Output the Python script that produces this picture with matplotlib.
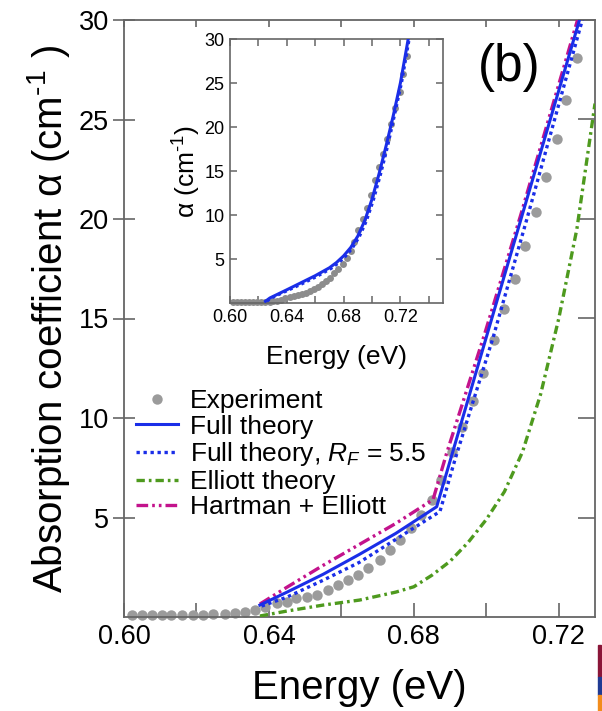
import matplotlib
matplotlib.use("Agg")
import matplotlib.pyplot as plt
from matplotlib.patches import Rectangle
from matplotlib.lines import Line2D

plt.rcParams['font.family'] = ['Liberation Sans', 'DejaVu Sans']
plt.rcParams['mathtext.fontset'] = 'custom'
plt.rcParams['mathtext.rm'] = 'Liberation Sans'
plt.rcParams['mathtext.it'] = 'Liberation Sans:italic'
plt.rcParams['mathtext.bf'] = 'Liberation Sans:bold'

# ---------------- data ----------------
exp_E = [0.6021, 0.6049, 0.6076, 0.6104, 0.6131, 0.6159, 0.6191, 0.6219, 0.6247, 0.6279,
         0.6306, 0.6334, 0.6361, 0.6389, 0.6421, 0.6449, 0.6476, 0.6504, 0.6532, 0.6564,
         0.6591, 0.6619, 0.6646, 0.6674, 0.6706, 0.6734, 0.6762, 0.6793, 0.6821, 0.6849,
         0.6875, 0.6904, 0.6934, 0.6964, 0.6992, 0.7022, 0.7049, 0.7079, 0.7106, 0.7137,
         0.7164, 0.7194, 0.7221, 0.7249]
exp_a = [0.10, 0.10, 0.10, 0.10, 0.10, 0.10, 0.10, 0.10, 0.13, 0.15,
         0.20, 0.24, 0.35, 0.52, 0.69, 0.77, 0.94, 1.02, 1.10, 1.36,
         1.61, 1.86, 2.11, 2.45, 2.86, 3.37, 3.88, 4.47, 5.15, 5.88,
         6.88, 8.28, 9.56, 10.85, 12.25, 13.93, 15.46, 16.97, 18.65, 20.37,
         22.13, 24.00, 26.00, 28.07]

full_E = [0.6375, 0.645, 0.655, 0.665, 0.675, 0.6863, 0.700, 0.7262]
full_a = [0.60, 1.25, 2.15, 3.15, 4.20, 5.54, 14.06, 30.3]

rf_E = [0.6380, 0.645, 0.655, 0.665, 0.675, 0.6872, 0.6915, 0.7018, 0.7112, 0.7268]
rf_a = [0.55, 1.00, 1.85, 2.75, 3.90, 5.30, 8.00, 14.00, 20.00, 30.2]

elliott_E = [0.6375, 0.645, 0.655, 0.665, 0.675, 0.680, 0.685, 0.690, 0.695, 0.700,
             0.705, 0.710, 0.715, 0.720, 0.725, 0.730]
elliott_a = [0.05, 0.30, 0.60, 0.85, 1.25, 1.52, 2.10, 2.80, 3.75, 4.90,
             6.30, 8.30, 11.20, 15.00, 19.50, 25.8]

hart_E = [0.6375, 0.645, 0.655, 0.665, 0.675, 0.6853, 0.6890, 0.6995, 0.7095, 0.7255]
hart_a = [0.65, 1.50, 2.60, 3.65, 4.70, 5.90, 8.20, 14.20, 20.20, 30.2]

inset_full_E = [0.6250, 0.6281, 0.640, 0.650, 0.660, 0.670, 0.675, 0.680, 0.685, 0.690,
                0.695, 0.700, 0.705, 0.710, 0.715, 0.720, 0.7255]
inset_full_a = [0.20, 0.57, 1.50, 2.30, 3.10, 4.00, 4.60, 5.35, 6.30, 7.60,
                9.40, 11.80, 14.70, 17.90, 21.30, 25.0, 30.0]
inset_rf_E = [0.6260, 0.6291, 0.641, 0.651, 0.661, 0.671, 0.676, 0.681, 0.686, 0.691,
              0.696, 0.701, 0.706, 0.711, 0.7158, 0.7208, 0.7262]
inset_rf_a = [0.20, 0.57, 1.45, 2.20, 3.00, 3.90, 4.50, 5.25, 6.20, 7.50,
              9.30, 11.70, 14.60, 17.80, 21.30, 25.0, 30.0]

main_xticks = [0.60, 0.64, 0.68, 0.72]
main_xticklabels = ['0.60', '0.64', '0.68', '0.72']
main_xminor = [0.62, 0.66, 0.70]
yticks = [5, 10, 15, 20, 25, 30]

legend_labels = ['Experiment', 'Full theory', r'Full theory, $R_F$ = 5.5',
                 'Elliott theory', 'Hartman + Elliott']

# ---------------- styles ----------------
BLUE = '#1a2ee8'
GREEN = '#4e9a1e'
MAG = '#c3138c'
GREY = '#9b9b9b'
SPINE = '#666666'
LS_DOT = (0, (1, 1.1))
LS_DASHDOT = (0, (2.5, 1.2, 0.8, 1.2))
LS_DASHDOTDOT = (0, (3.5, 1.2, 0.8, 1.2, 0.8, 1.2))

fig = plt.figure(figsize=(6.02, 7.11), dpi=100)
ax = fig.add_axes([124/602, 1-617/711, (595-124)/602, (617-20)/711])

ax.plot(exp_E, exp_a, 'o', color=GREY, ms=7.5, mec='none', zorder=2, clip_on=False)
ax.plot(full_E, full_a, '-', color=BLUE, lw=2.2, zorder=4)
ax.plot(rf_E, rf_a, color=BLUE, lw=2.4, ls=LS_DOT, zorder=4)
ax.plot(elliott_E, elliott_a, color=GREEN, lw=2.4, ls=LS_DASHDOT, zorder=4)
ax.plot(hart_E, hart_a, color=MAG, lw=2.4, ls=LS_DASHDOTDOT, zorder=3)

ax.set_xlim(0.60, 0.73)
ax.set_ylim(0, 30)
ax.set_xticks(main_xticks)
ax.set_xticklabels(main_xticklabels)
ax.set_xticks(main_xminor, minor=True)
ax.set_yticks(yticks)
ax.tick_params(axis='x', which='both', direction='in', length=10, width=1.2,
               colors=SPINE, labelcolor='black', labelsize=19.5, pad=5)
ax.tick_params(axis='y', direction='inout', length=16, width=1.2,
               colors=SPINE, labelcolor='black', labelsize=19.5, pad=3)
for s in ax.spines.values():
    s.set_color(SPINE)
    s.set_linewidth(1.3)

top = ax.secondary_xaxis('top')
top.set_xticks(main_xticks + main_xminor)
top.tick_params(direction='in', length=5, width=1.2, colors=SPINE, labeltop=False)
top.spines['top'].set_visible(False)
right = ax.secondary_yaxis('right')
right.set_yticks(yticks)
right.tick_params(direction='in', length=12, width=1.2, colors=SPINE, labelright=False)
right.spines['right'].set_visible(False)

ax.set_xlabel('Energy (eV)', fontsize=29, labelpad=14)
ax.set_ylabel(r'Absorption coefficient α (cm$^{\text{-1}}$ )', fontsize=29, labelpad=5)

fig.text(509/602, 1-68/711, '(b)', fontsize=37, ha='center', va='center')

# legend
handles = [
    Line2D([], [], ls='none', marker='o', color=GREY, ms=7.5, mec='none'),
    Line2D([], [], color=BLUE, lw=2.2),
    Line2D([], [], color=BLUE, lw=2.4, ls=LS_DOT),
    Line2D([], [], color=GREEN, lw=2.4, ls=LS_DASHDOT),
    Line2D([], [], color=MAG, lw=2.4, ls=LS_DASHDOTDOT),
]
fig.legend(handles, legend_labels, loc='upper left',
           bbox_to_anchor=(136/602, 1-389/711), bbox_transform=fig.transFigure,
           frameon=False, fontsize=19, handlelength=1.6, handletextpad=0.45,
           labelspacing=0.06, borderpad=0, borderaxespad=0)

# ---------------- inset ----------------
axi = fig.add_axes([230/602, 1-303/711, (443-230)/602, (303-39)/711])
axi.plot(exp_E, exp_a, 'o', color='#8c8c8c', ms=5, mec='none', zorder=2, clip_on=False)
axi.plot(inset_full_E, inset_full_a, '-', color=BLUE, lw=2.2, zorder=4)
axi.plot(inset_rf_E, inset_rf_a, color=BLUE, lw=2.2, ls=LS_DOT, zorder=4)
axi.set_xlim(0.60, 0.75)
axi.set_ylim(0, 30)
axi.set_xticks(main_xticks)
axi.set_xticklabels(main_xticklabels)
axi.set_xticks([0.62, 0.66, 0.70, 0.74], minor=True)
axi.set_yticks(yticks)
axi.tick_params(axis='both', which='both', direction='in', length=5, width=1.1,
                colors=SPINE, labelcolor='black', labelsize=13, top=True, right=True, pad=4)
for s in axi.spines.values():
    s.set_color(SPINE)
    s.set_linewidth(1.2)
axi.set_xlabel('Energy (eV)', fontsize=19, labelpad=14)
axi.set_ylabel(r'α (cm$^{\text{-1}}$)', fontsize=19, labelpad=1)

# corner colour strip
for y0, y1, c in [(645, 677, '#8a1538'), (677, 695, '#1f3a93'), (695, 711, '#f28c1c')]:
    fig.patches.append(Rectangle((598/602, 1-y1/711), 3/602, (y1-y0)/711,
                                 transform=fig.transFigure, color=c, zorder=10))

fig.savefig('out.png', dpi=100)
